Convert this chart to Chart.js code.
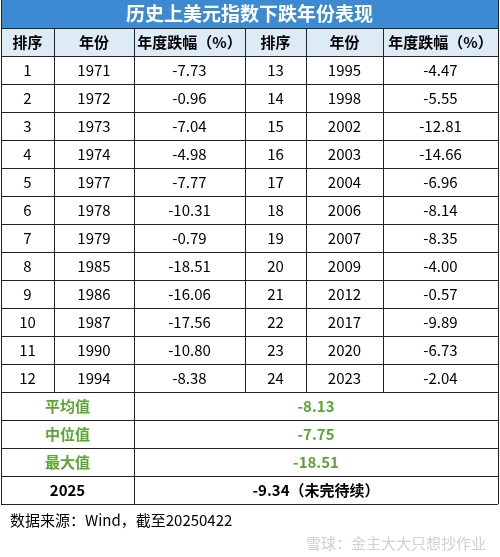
<!DOCTYPE html>
<html><head><meta charset="utf-8">
<script src="https://cdn.jsdelivr.net/npm/chart.js@4/dist/chart.umd.min.js"></script>
<style>html,body{margin:0;padding:0;background:#fff}#w{width:500px;height:557px}</style>
</head><body><div id="w"><canvas id="c"></canvas></div>
<script>
const title = "历史上美元指数下跌年份表现";
const headers = ["排序","年份","年度跌幅（%）","排序","年份","年度跌幅（%）"];
const ranks = [1,2,3,4,5,6,7,8,9,10,11,12,13,14,15,16,17,18,19,20,21,22,23,24];
const years = [1971,1972,1973,1974,1977,1978,1979,1985,1986,1987,1990,1994,1995,1998,2002,2003,2004,2006,2007,2009,2012,2017,2020,2023];
const declines = [-7.73,-0.96,-7.04,-4.98,-7.77,-10.31,-0.79,-18.51,-16.06,-17.56,-10.80,-8.38,-4.47,-5.55,-12.81,-14.66,-6.96,-8.14,-8.35,-4.00,-0.57,-9.89,-6.73,-2.04];
const statLabels = ["平均值","中位值","最大值","2025"];
const statValues = ["-8.13","-7.75","-18.51","-9.34（未完待续）"];
const source = "数据来源：Wind，截至20250422";
const watermark = "雪球：金主大大只想抄作业";

const colEdges = [1,54,134,245,306,383,498];
const F = '"Noto Sans CJK SC","Noto Sans",sans-serif';

const tablePlugin = {
  id:'table',
  afterDraw(chart){
    const {ctx, scales:{x,y}} = chart;
    const X = v=>x.getPixelForValue(v), Y = v=>y.getPixelForValue(v);
    ctx.save();
    ctx.fillStyle='#3C8AD2'; ctx.fillRect(X(1),Y(0),X(498)-X(1),Y(28)-Y(0));
    ctx.fillStyle='#fff'; ctx.font='bold 19px '+F; ctx.textAlign='center'; ctx.textBaseline='middle';
    ctx.fillText(title,X(249.5),Y(14));
    ctx.fillStyle='#DDEBF7'; ctx.fillRect(X(1),Y(28),X(498)-X(1),28);
    ctx.fillStyle='#000'; ctx.font='bold 15px '+F;
    for(let c=0;c<6;c++) ctx.fillText(headers[c],(X(colEdges[c])+X(colEdges[c+1]))/2,Y(42));
    ctx.font='15px '+F;
    for(let r=0;r<12;r++){
      const cy=Y(56+28*r+14);
      for(let h=0;h<2;h++){
        const i=r+12*h, b=h*3;
        const vals=[String(ranks[i]),String(years[i]),declines[i].toFixed(2)];
        for(let k=0;k<3;k++) ctx.fillText(vals[k],(X(colEdges[b+k])+X(colEdges[b+k+1]))/2,cy);
      }
    }
    for(let s=0;s<4;s++){
      const cy=Y(392+28*s+14);
      ctx.fillStyle = s<3?'#5AA632':'#000';
      ctx.font='bold 15px '+F;
      ctx.fillText(statLabels[s],(X(1)+X(134))/2,cy);
      ctx.fillText(statValues[s],(X(134)+X(498))/2,cy);
    }
    ctx.strokeStyle='#222'; ctx.lineWidth=1;
    ctx.beginPath();
    for(let r=1;r<=18;r++){ const yy=Math.round(Y(28*r))+0.5; ctx.moveTo(X(1),yy); ctx.lineTo(X(498),yy); }
    for(let c=0;c<7;c++){ const xx=Math.round(X(colEdges[c]))+0.5; const bot=(c===0||c===6||c===2)?504:392; ctx.moveTo(xx,Y(28)); ctx.lineTo(xx,Y(bot)); }
    ctx.stroke();
    ctx.beginPath(); ctx.moveTo(X(1)+0.5,Y(0)); ctx.lineTo(X(1)+0.5,Y(28)); ctx.moveTo(X(498)+0.5,Y(0)); ctx.lineTo(X(498)+0.5,Y(28)); ctx.stroke();
    ctx.fillStyle='#000'; ctx.font='15px '+F; ctx.textAlign='left';
    ctx.fillText(source,X(10),Y(520));
    ctx.fillStyle='#d0d0d0'; ctx.font='15px '+F; ctx.textAlign='right';
    ctx.fillText(watermark,X(486),Y(543));
    ctx.restore();
  }
};

new Chart(document.getElementById('c'),{
  type:'scatter',
  data:{datasets:[{data:[]}]},
  options:{
    responsive:true, maintainAspectRatio:false, animation:false,
    layout:{padding:0},
    plugins:{legend:{display:false},tooltip:{enabled:false}},
    scales:{
      x:{type:'linear',min:0,max:500,display:false},
      y:{type:'linear',min:0,max:557,reverse:true,display:false}
    }
  },
  plugins:[tablePlugin]
});
</script></body></html>
